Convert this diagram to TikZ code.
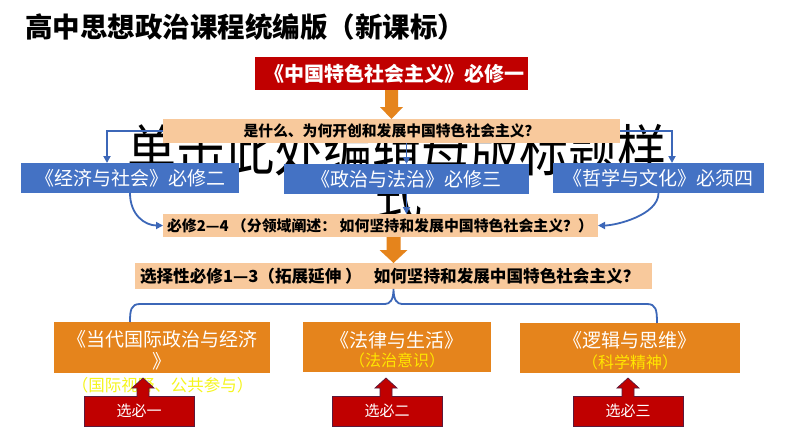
\documentclass[tikz,border=0pt]{standalone}
\usepackage{fontspec}
\usepackage{graphicx}
\newfontfamily\cjk{Noto Sans CJK SC}
\usetikzlibrary{calc,arrows.meta}
\definecolor{dred}{HTML}{C00000}
\definecolor{orng}{HTML}{E5841C}
\definecolor{peach}{HTML}{F8C99C}
\definecolor{bblue}{HTML}{4472C4}
\definecolor{lblue}{HTML}{3C67B8}
\definecolor{yel}{HTML}{FFE600}
\definecolor{yelb}{HTML}{F5F51E}
\definecolor{cborder}{HTML}{5A1A3C}
\begin{document}
\begin{tikzpicture}[x=1pt,y=-1pt,
  every node/.style={inner sep=0pt, outer sep=0pt},
  peachbox/.style={fill=peach, text=black},
  bluebox/.style={fill=bblue, text=white, minimum height=30, font=\cjk\fontsize{19}{22}\selectfont},
  orbox/.style={fill=orng, minimum height=51},
  ortext/.style={text=white, font=\cjk\fontsize{19}{22}\selectfont},
  yeltext/.style={text=yel, font=\cjk\fontsize{16}{19}\selectfont},
  selbox/.style={fill=dred, draw=cborder, line width=0.7pt, minimum width=110, minimum height=30, text=white, font=\cjk\fontsize{15}{18}\selectfont},
  selarrow/.style={fill=dred, draw=cborder, line width=0.7pt},
  conn/.style={draw=lblue, line width=1.8pt, -{Triangle[length=7pt,width=7pt]}},
  bline/.style={draw=lblue, line width=1.8pt}
]
\fill[white] (0,0) rectangle (794,447);
\useasboundingbox (0,0) rectangle (794,447);

% background placeholder title
\node[font=\cjk\fontsize{56}{60}\selectfont] (bg1) at (397,150) {\scalebox{0.875}[1]{单击此处编辑母版标题样}};
\node[font=\cjk\fontsize{56}{60}\selectfont] (bg2) at (398,195) {\scalebox{0.875}[1]{式}};

\node[anchor=west, font=\cjk\bfseries\fontsize{27.5}{30}\selectfont] (title) at (25,27) {高中思想政治课程统编版（新课标）};

\node[fill=dred, text=white, minimum width=273, minimum height=33] (red1) at (391.5,73.5) {};
\node[text=white, font=\cjk\bfseries\fontsize{20}{22}\selectfont] (red1t) at (394,73.5) {《中国特色社会主义》必修一};

\node[peachbox, minimum width=457, minimum height=24, font=\cjk\bfseries\fontsize{14.8}{17}\selectfont] (peach1) at (391.5,131) {是什么、为何开创和发展中国特色社会主义？};

\node[bluebox, minimum width=218] (blue1) at (130,178) {《经济与社会》必修二};
\node[bluebox, minimum width=245] (blue2) at (406.5,179) {《政治与法治》必修三};
\node[bluebox, minimum width=211] (blue3) at (658.5,178) {《哲学与文化》必须四};

\node[peachbox, minimum width=435, minimum height=23] (peach2) at (380.5,225.5) {};
\node[anchor=west, font=\cjk\bfseries\fontsize{14.9}{17}\selectfont] (peach2t) at (167,225.5) {必修2—4 （分领域阐述： 如何坚持和发展中国特色社会主义？）};

\node[peachbox, minimum width=517, minimum height=26] (peach3) at (393.5,276) {};
\node[anchor=west, font=\cjk\bfseries\fontsize{16.6}{19}\selectfont] (peach3t) at (140,276) {选择性必修1—3（拓展延伸 ）\hspace{12pt}如何坚持和发展中国特色社会主义？};

% orange block arrows
\fill[orng] ($(red1.south)+(-6.5,0)$) -- ($(red1.south)+(6.5,0)$) -- ($(peach1.north)+(6.5,-12)$) -- ($(peach1.north)+(11.5,-12)$) -- (peach1.north) -- ($(peach1.north)+(-11.5,-12)$) -- ($(peach1.north)+(-6.5,-12)$) -- cycle;
\coordinate (a2top) at (peach3.north |- peach2.south);
\fill[orng] ($(a2top)+(-7,0)$) -- ($(a2top)+(7,0)$) -- ($(peach3.north)+(7,-13)$) -- ($(peach3.north)+(14,-13)$) -- (peach3.north) -- ($(peach3.north)+(-14,-13)$) -- ($(peach3.north)+(-7,-13)$) -- cycle;

% blue connectors
\draw[conn] (peach1.west) -| ([xshift=-23pt]blue1.north);
\draw[conn] (peach1.south -| blue2.north) -- (blue2.north);
\draw[conn] (peach1.east) -| ([xshift=13.5pt]blue3.north);
\draw[conn] (blue2.south) -- (blue2.south |- peach2.north);
\draw[conn] (blue1.south) .. controls +(0,22) and +(-18,0) .. (peach2.west);
\draw[conn] (blue3.south) .. controls +(0,22) and +(18,0) .. (peach2.east);

% orange boxes
\node[orbox, minimum width=216] (or1) at (162,347.5) {};
\node[ortext] (or1a) at (162,339) {《当代国际政治与经济};
\node[ortext] (or1b) at (162,361) {》};
\node[yeltext, text=yelb, font=\cjk\fontsize{16.5}{19}\selectfont] (or1c) at (162.5,385) {（国际视野、公共参与）};

\node[orbox, minimum width=188, minimum height=50] (or2) at (397,347) {};
\node[ortext] (or2a) at (397,340.5) {《法律与生活》};
\node[yeltext] (or2b) at (397,360.5) {（法治意识）};

\node[orbox, minimum width=220, minimum height=50] (or3) at (630,348) {};
\node[ortext] (or3a) at (630,340) {《逻辑与思维》};
\node[yeltext] (or3b) at (630,362) {（科学精神）};

% brace
\coordinate (brL) at ($(or1.north west)+(76,0)$);
\coordinate (brR) at ($(or3.north west)+(137,0)$);
\coordinate (cusp) at (peach3.south);
\draw[bline] (brL) .. controls (130,310) and (131,304) .. (140,304) -- (385,304) .. controls (390,304) and (393.5,300) .. (cusp) .. controls (393.5,300) and (397,304) .. (402,304) -- (647,304) .. controls (656,304) and (657,310) .. (brR);

% red callouts
\node[selbox] (s1) at (139,411) {选必一};
\node[selbox] (s2) at (387,411) {选必二};
\node[selbox] (s3) at (628,411) {选必三};
\coordinate (t1) at ($(s1.north)+(4,0)$);
\coordinate (t2) at ($(s2.north)+(-1,0)$);
\coordinate (t3) at (s3.north);
\foreach \t in {t1,t2,t3}{
  \path[selarrow] ($(\t)+(-6,0.8)$) -- ($(\t)+(-6,-8)$) -- ($(\t)+(-11,-8)$) -- ($(\t)+(0,-18)$) -- ($(\t)+(11,-8)$) -- ($(\t)+(6,-8)$) -- ($(\t)+(6,0.8)$);
}
\end{tikzpicture}
\end{document}
